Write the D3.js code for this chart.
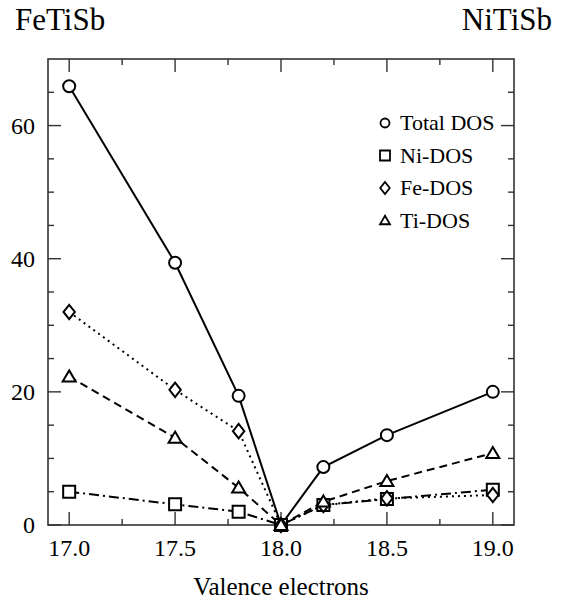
<!DOCTYPE html>
<html>
<head>
<meta charset="utf-8">
<script src="https://cdn.jsdelivr.net/npm/d3@7"></script>
<style>
html,body{margin:0;padding:0;background:#fff;}
svg{display:block;}
</style>
</head>
<body>
<svg id="chart" width="562" height="603"></svg>
<script>
// ---- data ----
const electrons = [17.0, 17.5, 17.8, 18.0, 18.2, 18.5, 19.0];
const totalDOS  = [65.9, 39.4, 19.4, 0, 8.7, 13.5, 20.0];
const niDOS     = [5.0, 3.1, 2.0, 0, 3.0, 3.9, 5.3];
const feDOS     = [32.0, 20.3, 14.1, 0, 3.0, 4.0, 4.5];
const tiDOS     = [22.3, 13.1, 5.6, 0, 3.5, 6.6, 10.8];
const seriesNames = ["Total DOS", "Ni-DOS", "Fe-DOS", "Ti-DOS"];
const xTicks = [17.0, 17.5, 18.0, 18.5, 19.0];
const yTicks = [0, 20, 40, 60];
const leftTitle = "FeTiSb";
const rightTitle = "NiTiSb";
const xLabel = "Valence electrons";

const FONT = "'Liberation Serif', 'Times New Roman', Times, serif";

// ---- layout ----
const svg = d3.select("#chart");
const L = 48, R = 514, T = 59, B = 525;
const x = d3.scaleLinear().domain([16.9, 19.1]).range([L, R]);
const y = d3.scaleLinear().domain([0, 70]).range([B, T]);

const series = [
  {name: seriesNames[0], values: totalDOS, dash: null, shape: "circle"},
  {name: seriesNames[1], values: niDOS, dash: "10,4,2,4", shape: "square"},
  {name: seriesNames[2], values: feDOS, dash: "2,4", shape: "diamond"},
  {name: seriesNames[3], values: tiDOS, dash: "8,5", shape: "triangle"}
];

function shapePath(shape, s) {
  const h = s / 2;
  if (shape === "circle") {
    const p = d3.path(); p.arc(0, 0, h, 0, 2 * Math.PI); return p.toString();
  }
  if (shape === "square") return `M${-h},${-h}H${h}V${h}H${-h}Z`;
  if (shape === "diamond") return `M0,${-h*1.2}L${h*0.95},0L0,${h*1.2}L${-h*0.95},0Z`;
  if (shape === "triangle") return `M0,${-h*0.95}L${h},${h*0.75}L${-h},${h*0.75}Z`;
}

// frame
svg.append("rect").attr("x", L).attr("y", T).attr("width", R - L).attr("height", B - T)
  .attr("fill", "none").attr("stroke", "#333").attr("stroke-width", 1.6);

// ticks inward
const xMinor = d3.range(17.0, 19.01, 0.25).filter(v => !xTicks.some(t => Math.abs(t - v) < 1e-6));
const yMinor = d3.range(5, 70, 5).filter(v => !yTicks.includes(v));
const tk = svg.append("g").attr("stroke", "#333").attr("stroke-width", 1.4);
xTicks.forEach(v => {
  tk.append("line").attr("x1", x(v)).attr("x2", x(v)).attr("y1", B).attr("y2", B - 13);
  tk.append("line").attr("x1", x(v)).attr("x2", x(v)).attr("y1", T).attr("y2", T + 13);
});
xMinor.forEach(v => {
  tk.append("line").attr("x1", x(v)).attr("x2", x(v)).attr("y1", B).attr("y2", B - 6);
  tk.append("line").attr("x1", x(v)).attr("x2", x(v)).attr("y1", T).attr("y2", T + 6);
});
yTicks.forEach(v => {
  tk.append("line").attr("y1", y(v)).attr("y2", y(v)).attr("x1", L).attr("x2", L + 13);
  tk.append("line").attr("y1", y(v)).attr("y2", y(v)).attr("x1", R).attr("x2", R - 13);
});
yMinor.forEach(v => {
  tk.append("line").attr("y1", y(v)).attr("y2", y(v)).attr("x1", L).attr("x2", L + 6);
  tk.append("line").attr("y1", y(v)).attr("y2", y(v)).attr("x1", R).attr("x2", R - 6);
});

// tick labels
svg.append("g").selectAll("text").data(xTicks).join("text")
  .attr("font-family", FONT)
  .attr("x", d => x(d)).attr("y", 556).attr("text-anchor", "middle")
  .attr("font-size", 24).text(d => d.toFixed(1));
svg.append("g").selectAll("text").data(yTicks).join("text")
  .attr("font-family", FONT)
  .attr("x", 35).attr("y", d => y(d) + 8).attr("text-anchor", "end")
  .attr("font-size", 24).text(d => d);

// axis label and titles
svg.append("text").attr("font-family", FONT).attr("x", (L + R) / 2).attr("y", 595).attr("text-anchor", "middle")
  .attr("font-size", 25).text(xLabel);
svg.append("text").attr("font-family", FONT).attr("x", 15).attr("y", 30).attr("font-size", 31).text(leftTitle);
svg.append("text").attr("font-family", FONT).attr("x", 552).attr("y", 30).attr("text-anchor", "end").attr("font-size", 31).text(rightTitle);

// lines
const line = d3.line().x((d, i) => x(electrons[i])).y(d => y(d));
series.forEach(s => {
  svg.append("path").datum(s.values).attr("d", line)
    .attr("fill", "none").attr("stroke", "#000").attr("stroke-width", 2)
    .attr("stroke-dasharray", s.dash);
});
// markers
const markerSize = {circle: 12, square: 12, diamond: 12, triangle: 13};
series.forEach(s => {
  svg.append("g").selectAll("path").data(s.values).join("path")
    .attr("transform", (d, i) => `translate(${x(electrons[i])},${y(d)})`)
    .attr("d", shapePath(s.shape, markerSize[s.shape]))
    .attr("fill", "#fff").attr("stroke", "#000").attr("stroke-width", 2);
});

// legend
const lg = svg.append("g");
series.forEach((s, i) => {
  const cy = 123 + i * 32.5;
  lg.append("path").attr("transform", `translate(385,${cy})`)
    .attr("d", shapePath(s.shape, s.shape === "circle" ? 9 : 10))
    .attr("fill", "#fff").attr("stroke", "#000").attr("stroke-width", 1.8);
  lg.append("text").attr("font-family", FONT).attr("x", 400).attr("y", cy + 7).attr("font-size", 22).text(s.name);
});
</script>
</body>
</html>
